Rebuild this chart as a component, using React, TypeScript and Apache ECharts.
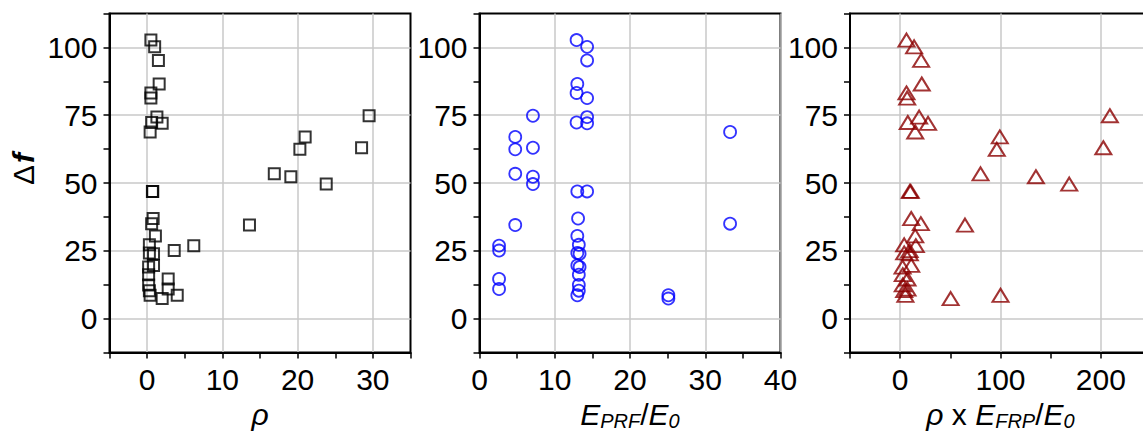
import React, { useEffect, useRef } from "react";
import * as echarts from "echarts";

// Shared response values (Δf) for every specimen
const deltaF = [102.7, 100.2, 95.2, 86.5, 83.2, 81.3, 74.8, 74.3, 72.3, 72.0, 68.8, 67.0, 63.0, 62.4, 53.4, 52.3, 49.6, 46.9, 46.9, 36.9, 35.0, 34.5, 30.5, 27.2, 26.9, 25.1, 24.2, 23.9, 19.6, 19.0, 16.2, 14.6, 12.4, 10.9, 10.3, 8.6, 8.6, 7.4];
// Panel 1: ρ
const rho = [0.5, 1.0, 1.5, 1.6, 0.5, 0.5, 29.5, 1.3, 0.6, 2.0, 0.4, 21.0, 28.5, 20.3, 16.9, 19.1, 23.8, 0.7, 0.75, 0.8, 0.6, 13.6, 1.1, 0.3, 6.2, 3.6, 0.3, 0.85, 0.85, 0.2, 0.2, 2.8, 0.2, 2.8, 0.3, 0.4, 4.0, 2.0];
// Panel 2: E_PRF / E_0
const ePrf = [12.9, 14.3, 14.3, 13.0, 12.9, 14.3, 7.1, 14.3, 12.9, 14.3, 33.3, 4.75, 7.1, 4.75, 4.75, 7.1, 7.1, 13.0, 14.3, 13.1, 33.3, 4.75, 13.0, 13.2, 2.6, 2.6, 13.0, 13.3, 13.0, 13.3, 13.2, 2.6, 13.2, 2.6, 13.2, 13.0, 25.1, 25.1];
// Panel 3: ρ x E_FRP / E_0
const rhoE = [6.3, 13.9, 20.9, 21.5, 6.3, 7.0, 209, 18.9, 7.6, 27.8, 15.0, 99.3, 202.5, 96.3, 80.1, 135.3, 168.5, 9.6, 10.5, 11.0, 20.6, 64.6, 15.0, 4.0, 15.6, 9.4, 4.0, 9.6, 11.0, 2.4, 2.6, 7.3, 2.6, 7.3, 4.0, 5.2, 100.0, 50.3];

const xRanges = [
  { min: -5, max: 35, interval: 5, labelEvery: 10 },
  { min: 0, max: 40, interval: 5, labelEvery: 10 },
  { min: -50, max: 250, interval: 50, labelEvery: 100 },
];
const yRange = { min: -12.5, max: 112.5, interval: 12.5, labelEvery: 25 };

const FONT = "'Liberation Sans', Arial, sans-serif";
const GRID_GRAY = "#c8c8c8";
const CLEAR = "rgba(0,0,0,0)";
const FS = 30;

export default function App() {
  const ref = useRef<HTMLDivElement>(null);
  useEffect(() => {
    if (!ref.current) return;
    const chart = echarts.init(ref.current, undefined, { renderer: "svg" });
    const lefts = [109.5, 479.5, 850];
    const grids = lefts.map((l) => ({
      left: l,
      top: 13.5,
      width: 301,
      height: 339,
      show: true,
      borderColor: "#000",
      borderWidth: 2,
      backgroundColor: "transparent",
      containLabel: false,
      outerBoundsMode: "none",
    }));
    const xSplitColors = [[CLEAR, GRID_GRAY], [GRID_GRAY, CLEAR], [CLEAR, GRID_GRAY]];
    const sub = { fontFamily: FONT, fontSize: 20, fontStyle: "italic", color: "#000", padding: [14, 0, 0, 0] };
    const it = { fontFamily: FONT, fontSize: FS, fontStyle: "italic", color: "#000" };
    const nm = { fontFamily: FONT, fontSize: FS, color: "#000" };
    const names = [
      "{i|ρ}",
      "{i|E}{s|PRF}{n|/}{i|E}{s|0}",
      "{i|ρ}{n| x }{i|E}{s|FRP}{n|/}{i|E}{s|0}",
    ];
    const gaps = [41, 38, 38];
    const xAxes = xRanges.map((r, k) => ({
      type: "value",
      gridIndex: k,
      min: r.min,
      max: r.max,
      interval: r.interval,
      axisLine: { show: true, onZero: false, lineStyle: { color: "#000", width: 2 } },
      axisTick: { show: true, inside: false, length: 6, lineStyle: { color: "#000", width: 1.5 } },
      axisLabel: {
        show: true,
        margin: 12,
        fontFamily: FONT,
        fontSize: FS,
        color: "#000",
        formatter: (v: number) => (Math.abs(v % r.labelEvery) < 1e-9 ? String(v) : ""),
      },
      splitLine: { show: true, lineStyle: { color: xSplitColors[k], width: 1.5 } },
      name: names[k],
      nameLocation: "middle",
      nameGap: gaps[k],
      nameTextStyle: { rich: { i: it, n: nm, s: sub } },
    }));
    const yAxes = [0, 1, 2].map((k) => ({
      type: "value",
      gridIndex: k,
      min: yRange.min,
      max: yRange.max,
      interval: yRange.interval,
      axisLine: { show: true, onZero: false, lineStyle: { color: "#000", width: 2 } },
      axisTick: { show: true, inside: false, length: 6, lineStyle: { color: "#000", width: 1.5 } },
      axisLabel: {
        show: true,
        margin: 12,
        fontFamily: FONT,
        fontSize: FS,
        color: "#000",
        formatter: (v: number) => (Math.abs(v % yRange.labelEvery) < 1e-9 ? String(v) : ""),
      },
      splitLine: { show: true, lineStyle: { color: [CLEAR, GRID_GRAY], width: 1.5 } },
    }));
    const mk = (xs: number[]) => xs.map((x, i) => [x, deltaF[i]]);
    chart.setOption({
      animation: false,
      backgroundColor: "#fff",
      grid: grids,
      xAxis: xAxes,
      yAxis: yAxes,
      series: [
        {
          type: "scatter",
          xAxisIndex: 0,
          yAxisIndex: 0,
          data: mk(rho),
          symbol: "rect",
          symbolSize: 11,
          itemStyle: { color: CLEAR, borderColor: "#000", borderWidth: 2 },
        },
        {
          type: "scatter",
          xAxisIndex: 1,
          yAxisIndex: 1,
          data: mk(ePrf),
          symbol: "circle",
          symbolSize: 12,
          itemStyle: { color: CLEAR, borderColor: "#0000ff", borderWidth: 1.8 },
        },
        {
          type: "scatter",
          xAxisIndex: 2,
          yAxisIndex: 2,
          data: mk(rhoE),
          symbol: "triangle",
          symbolSize: [16, 13],
          itemStyle: { color: CLEAR, borderColor: "#8b0000", borderWidth: 2 },
        },
      ],
      graphic: [
        {
          type: "text",
          x: 23,
          y: 175,
          rotation: Math.PI / 2,
          style: {
            text: "Δ",
            align: "center",
            verticalAlign: "middle",
            fontFamily: FONT,
            fontSize: FS,
            fontStyle: "normal",
            fontWeight: "normal",
            fill: "#000",
          },
        },
        {
          type: "text",
          x: 23,
          y: 158,
          rotation: Math.PI / 2,
          style: {
            text: "f",
            align: "center",
            verticalAlign: "middle",
            fontFamily: FONT,
            fontSize: FS,
            fontStyle: "italic",
            fontWeight: "bold",
            fill: "#000",
          },
        },
      ],
    });
    return () => chart.dispose();
  }, []);
  return (
    <div
      ref={ref}
      style={{ position: "fixed", left: 0, top: 0, width: 1143, height: 432, overflow: "hidden", background: "#fff" }}
    />
  );
}
